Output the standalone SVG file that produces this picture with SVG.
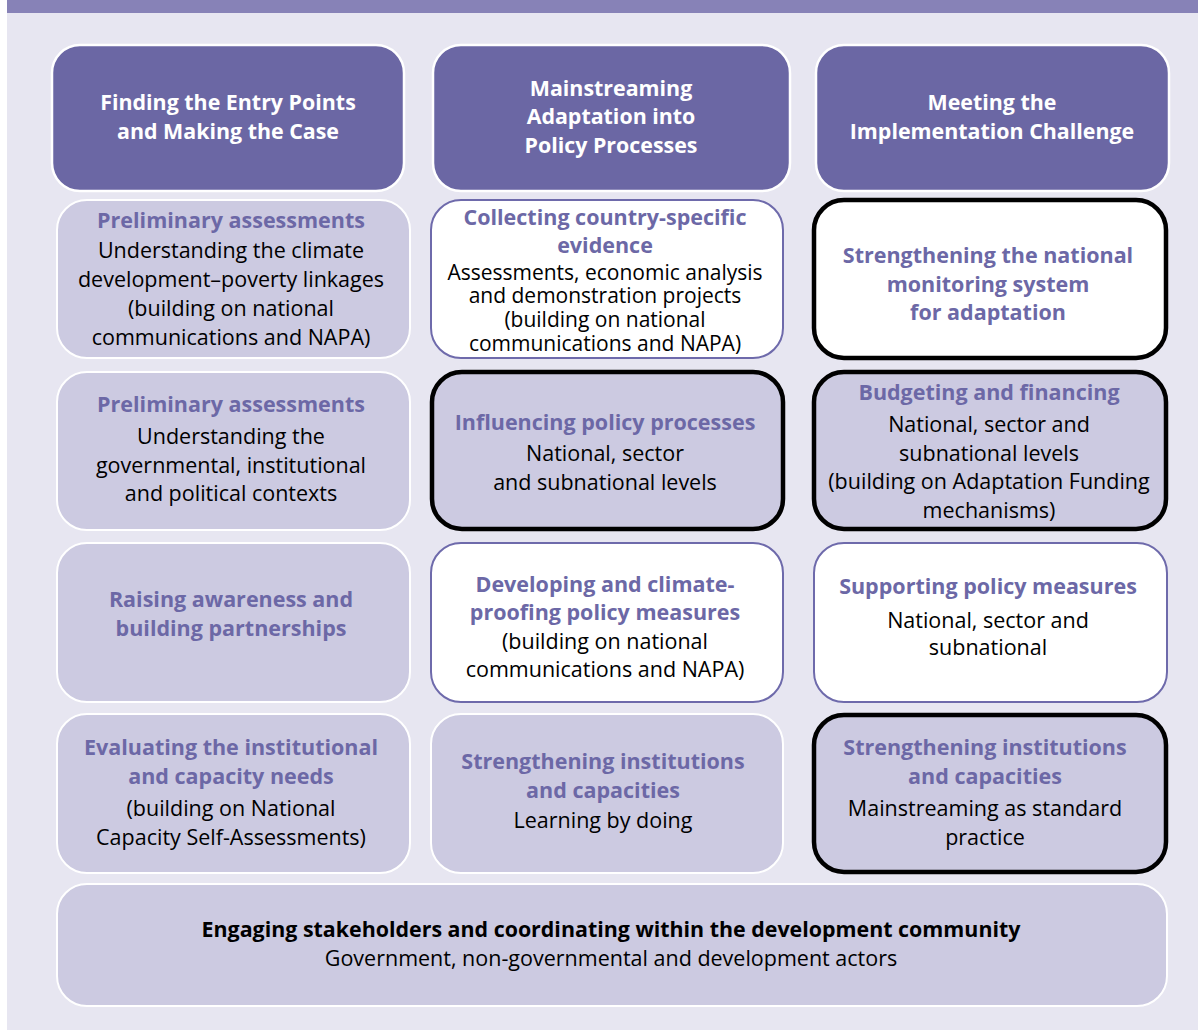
<svg xmlns="http://www.w3.org/2000/svg" width="1198" height="1030" viewBox="0 0 1198 1030">
<style>
text{font-family:"Open Sans","Liberation Sans",sans-serif;text-anchor:middle}
.hd{fill:#6b67a4;stroke:#ffffff;stroke-width:2.5}
.lt{fill:#cccae1;stroke:#ffffff;stroke-width:2}
.wp{fill:#ffffff;stroke:#6e6aab;stroke-width:2}
.wb{fill:#ffffff;stroke:#000000;stroke-width:4.5}
.lb{fill:#cccae1;stroke:#000000;stroke-width:4.5}
.ht{fill:#ffffff;font-weight:bold;font-size:21.4px}
.pt{fill:#6c68a6;font-weight:bold;font-size:21.5px}
.bt{fill:#000000;font-size:21.5px}
.st{fill:#000000;font-size:21px}
.kt{fill:#000000;font-weight:bold;font-size:21.4px}
</style>
<rect x="0" y="0" width="1198" height="1030" fill="#ffffff"/>
<rect x="7" y="13" width="1191" height="1017" fill="#e7e6f1"/>
<rect x="7" y="0" width="1191" height="13" fill="#8782b7"/>

<g id="header1"><rect class="hd" x="52" y="45" width="352" height="146" rx="28"/>
<text class="ht" x="228" y="110">Finding the Entry Points</text><text class="ht" x="228" y="139">and Making the Case</text></g>
<g id="header2"><rect class="hd" x="433" y="45" width="357" height="146" rx="28"/>
<text class="ht" x="611" y="96">Mainstreaming</text><text class="ht" x="611" y="124">Adaptation into</text><text class="ht" x="611" y="153">Policy Processes</text></g>
<g id="header3"><rect class="hd" x="816" y="45" width="353" height="146" rx="28"/>
<text class="ht" x="992" y="110">Meeting the</text><text class="ht" x="992" y="139">Implementation Challenge</text></g>

<g id="r1c1"><rect class="lt" x="57" y="200" width="353" height="158" rx="30"/>
<text class="pt" x="231" y="228">Preliminary assessments</text>
<text class="bt" x="231" y="258">Understanding the climate</text>
<text class="bt" x="231" y="287">development–poverty linkages</text>
<text class="bt" x="231" y="316">(building on national</text>
<text class="bt" x="231" y="345">communications and NAPA)</text></g>
<g id="r1c2"><rect class="wp" x="431" y="200" width="352" height="158" rx="30"/>
<text class="pt" x="605" y="225">Collecting country-specific</text>
<text class="pt" x="605" y="253">evidence</text>
<text class="st" x="605" y="280">Assessments, economic analysis</text>
<text class="st" x="605" y="303">and demonstration projects</text>
<text class="st" x="605" y="327">(building on national</text>
<text class="st" x="605" y="351">communications and NAPA)</text></g>
<g id="r1c3"><rect class="wb" x="814" y="200" width="352" height="158" rx="30"/>
<text class="pt" x="988" y="263">Strengthening the national</text>
<text class="pt" x="988" y="292">monitoring system</text>
<text class="pt" x="988" y="320">for adaptation</text></g>

<g id="r2c1"><rect class="lt" x="57" y="372" width="353" height="158" rx="30"/>
<text class="pt" x="231" y="412">Preliminary assessments</text>
<text class="bt" x="231" y="444">Understanding the</text>
<text class="bt" x="231" y="473">governmental, institutional</text>
<text class="bt" x="231" y="501">and political contexts</text></g>
<g id="r2c2"><rect class="lb" x="432" y="372" width="351" height="157" rx="30"/>
<text class="pt" x="605" y="430">Influencing policy processes</text>
<text class="bt" x="605" y="461">National, sector</text>
<text class="bt" x="605" y="490">and subnational levels</text></g>
<g id="r2c3"><rect class="lb" x="814" y="372" width="352" height="157" rx="30"/>
<text class="pt" x="989" y="400">Budgeting and financing</text>
<text class="bt" x="989" y="432">National, sector and</text>
<text class="bt" x="989" y="461">subnational levels</text>
<text class="bt" x="989" y="489">(building on Adaptation Funding</text>
<text class="bt" x="989" y="518">mechanisms)</text></g>

<g id="r3c1"><rect class="lt" x="57" y="543" width="353" height="159" rx="30"/>
<text class="pt" x="231" y="607">Raising awareness and</text>
<text class="pt" x="231" y="636">building partnerships</text></g>
<g id="r3c2"><rect class="wp" x="431" y="543" width="352" height="159" rx="30"/>
<text class="pt" x="605" y="592">Developing and climate-</text>
<text class="pt" x="605" y="620">proofing policy measures</text>
<text class="bt" x="605" y="649">(building on national</text>
<text class="bt" x="605" y="677">communications and NAPA)</text></g>
<g id="r3c3"><rect class="wp" x="814" y="543" width="353" height="159" rx="30"/>
<text class="pt" x="988" y="594">Supporting policy measures</text>
<text class="bt" x="988" y="628">National, sector and</text>
<text class="bt" x="988" y="655">subnational</text></g>

<g id="r4c1"><rect class="lt" x="57" y="714" width="353" height="159" rx="30"/>
<text class="pt" x="231" y="755">Evaluating the institutional</text>
<text class="pt" x="231" y="784">and capacity needs</text>
<text class="bt" x="231" y="816">(building on National</text>
<text class="bt" x="231" y="845">Capacity Self-Assessments)</text></g>
<g id="r4c2"><rect class="lt" x="431" y="714" width="352" height="159" rx="30"/>
<text class="pt" x="603" y="769">Strengthening institutions</text>
<text class="pt" x="603" y="798">and capacities</text>
<text class="bt" x="603" y="828">Learning by doing</text></g>
<g id="r4c3"><rect class="lb" x="814" y="715" width="352" height="157" rx="30"/>
<text class="pt" x="985" y="755">Strengthening institutions</text>
<text class="pt" x="985" y="784">and capacities</text>
<text class="bt" x="985" y="816">Mainstreaming as standard</text>
<text class="bt" x="985" y="845">practice</text></g>

<g id="bottom"><rect class="lt" x="57" y="884" width="1110" height="122" rx="30"/>
<text class="kt" x="611" y="937">Engaging stakeholders and coordinating within the development community</text>
<text class="bt" x="611" y="966">Government, non-governmental and development actors</text></g>
<g id="connectors"/>
</svg>
